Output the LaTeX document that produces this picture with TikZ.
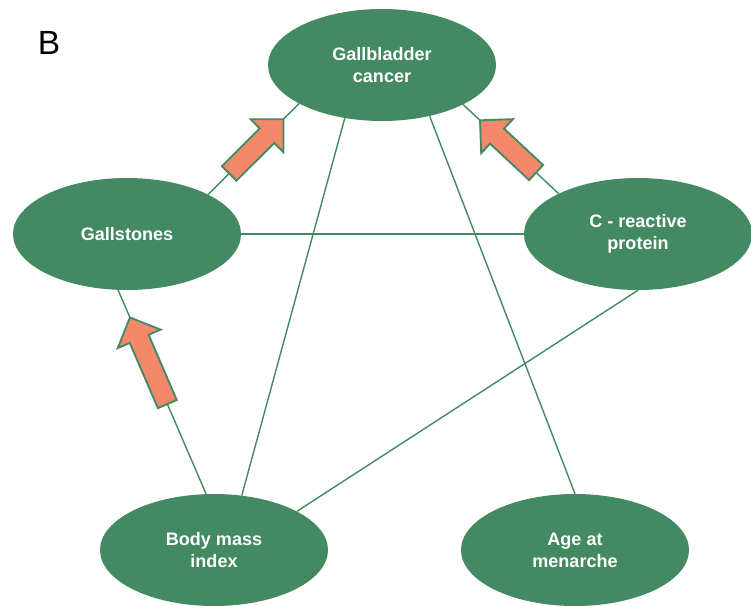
\documentclass[tikz,border=0pt]{standalone}
\usepackage{fontspec}
\setsansfont{Liberation Sans}
\usetikzlibrary{shapes.geometric,shapes.arrows}
\definecolor{nodegreen}{HTML}{438A62}
\definecolor{salmon}{HTML}{F4886A}
\tikzset{
  oval/.style={ellipse, fill=nodegreen, text=white, align=center, inner sep=0pt, minimum width=6.84cm, minimum height=3.36cm, font=\sffamily\bfseries\fontsize{15.4}{18.8}\selectfont},
  edge/.style={draw=nodegreen, line width=1.2pt},
  fatarrow/.style={single arrow, draw=nodegreen, line width=1.6pt, fill=salmon, sloped, allow upside down, minimum height=2.3cm, inner xsep=0pt, inner ysep=0.28cm, single arrow head extend=0.39cm, single arrow tip angle=90}
}

\begin{document}
\begin{tikzpicture}[x=0.03cm, y=-0.03cm]
  \useasboundingbox (0,0) rectangle (751,605);
  \node[font=\sffamily\fontsize{28.6}{30}\selectfont] (panel) at (49,43) {B};
  % variables
  \node[oval] (gc) at (382,65) {Gallbladder\\cancer};
  \node[oval] (gs) at (127,234) {Gallstones};
  \node[oval] (crp) at (638,234) {C - reactive\\protein};
  \node[oval] (bmi) at (214,550) {Body mass\\index};
  \node[oval] (age) at (575,550) {Age at\\menarche};
  % causal links
  \draw[edge] (gs.26.9) -- node[fatarrow, pos=0.49] {} (gc.205);
  \draw[edge] (crp.153) -- node[fatarrow, pos=0.49] {} (gc.334);
  \draw[edge] (bmi.98) -- node[fatarrow, pos=0.63, minimum height=2.83cm] {} (gs.261);
  % other links
  \draw[edge] (gs.east) -- (crp.west);
  \draw[edge] (bmi.63) -- (gc.235);
  \draw[edge] (bmi.25) -- (crp.south);
  \draw[edge] (age.north) -- (gc.313);
\end{tikzpicture}
\end{document}
